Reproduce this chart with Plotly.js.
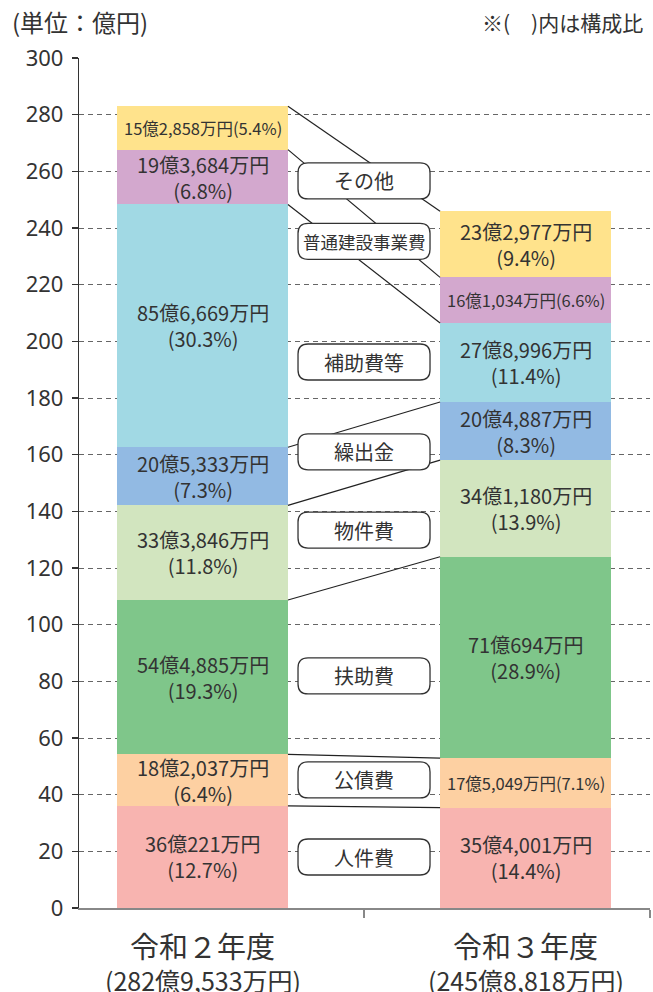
<!DOCTYPE html>
<html>
<head>
<meta charset="utf-8">
<script src="https://cdn.plot.ly/plotly-3.0.1.min.js"></script>
<style>html,body{margin:0;padding:0;background:#fff;}#chart{width:653px;height:992px;}</style>
</head>
<body>
<div id="chart"></div>
<script>
// ---- data (amounts in 万円) ----
const categories = ['令和２年度', '令和３年度'];
const items = ['人件費', '公債費', '扶助費', '物件費', '繰出金', '補助費等', '普通建設事業費', 'その他'];
const r2Values = [360221, 182037, 544885, 333846, 205333, 856669, 193684, 152858];
const r3Values = [354001, 175049, 710694, 341180, 204887, 278996, 161034, 232977];
const r2Pct = [12.7, 6.4, 19.3, 11.8, 7.3, 30.3, 6.8, 5.4];
const r3Pct = [14.4, 7.1, 28.9, 13.9, 8.3, 11.4, 6.6, 9.4];
const yTicks = [0, 20, 40, 60, 80, 100, 120, 140, 160, 180, 200, 220, 240, 260, 280, 300];

// ---- styles / layout config ----
const colors = ['#F8B4B0', '#FDD0A2', '#7FC68A', '#D2E5BF', '#92BAE3', '#A1D9E4', '#D3A8CE', '#FFE38C'];
const labelY = [18, 45.2, 81.9, 133.4, 161, 192.7, 235.3, 256.6]; // label box centres (axis units)
const labelSize = [20, 20, 20, 20, 20, 20, 17.5, 20];
const barW = 0.529;
const FONT = '"Noto Sans CJK JP", "Noto Sans", sans-serif';
const TXT = '#333333';

function fmt(v) {
  const oku = Math.floor(v / 10000);
  const man = v % 10000;
  return (oku > 0 ? oku + '億' : '') + man.toLocaleString('en-US') + '万円';
}

const series = [r2Values, r3Values];
const pcts = [r2Pct, r3Pct];

const traces = items.map((name, i) => ({
  type: 'bar',
  name: name,
  x: [0, 1],
  y: series.map(s => s[i] / 10000),
  width: barW,
  marker: {color: colors[i], line: {width: 0}},
  hoverinfo: 'skip',
  showlegend: false
}));

// connector lines between segment tops
const lx = [], ly = [];
const cum = series.map(s => { let c = 0; return s.map(v => (c += v / 10000)); });
for (let i = 0; i < items.length; i++) {
  lx.push(barW / 2, 1 - barW / 2, null);
  ly.push(cum[0][i], cum[1][i], null);
}
traces.push({
  type: 'scatter', mode: 'lines', x: lx, y: ly,
  line: {color: '#222', width: 1.2}, hoverinfo: 'skip', showlegend: false
});

const annotations = [];
const shapes = [];

// segment value labels
series.forEach((s, b) => {
  let base = 0;
  s.forEach((v, i) => {
    const h = v / 10000;
    const mid = base + h / 2;
    base += h;
    const single = h < 18;
    const txt = single ? fmt(v) + '(' + pcts[b][i].toFixed(1) + '%)'
                       : fmt(v) + '<br>(' + pcts[b][i].toFixed(1) + '%)';
    annotations.push({
      x: b, y: mid, xref: 'x', yref: 'y', text: txt, showarrow: false,
      xanchor: 'center', yanchor: 'middle', align: 'center',
      font: {family: FONT, size: single ? 16.5 : 20, color: TXT}
    });
  });
});

// label boxes (rounded)
const hw = 66, hh = 18, r = 10;
const boxPath = `M ${-hw + r},${-hh} L ${hw - r},${-hh} Q ${hw},${-hh} ${hw},${-hh + r} L ${hw},${hh - r} Q ${hw},${hh} ${hw - r},${hh} L ${-hw + r},${hh} Q ${-hw},${hh} ${-hw},${hh - r} L ${-hw},${-hh + r} Q ${-hw},${-hh} ${-hw + r},${-hh} Z`;
items.forEach((name, i) => {
  shapes.push({
    type: 'path', xref: 'x', yref: 'y', xsizemode: 'pixel', ysizemode: 'pixel',
    xanchor: 0.5, yanchor: labelY[i], path: boxPath,
    fillcolor: '#ffffff', line: {color: '#333', width: 1.3}, layer: 'above'
  });
  annotations.push({
    x: 0.5, y: labelY[i], xref: 'x', yref: 'y', text: name, showarrow: false,
    xanchor: 'center', yanchor: 'middle',
    font: {family: FONT, size: labelSize[i], color: TXT}
  });
});

// axis extension below zero
shapes.push({
  type: 'line', xref: 'paper', yref: 'y', ysizemode: 'pixel', yanchor: 0,
  x0: 0, x1: 0, y0: 0, y1: -10, line: {color: '#333', width: 1.2}
});

// category labels
categories.forEach((c, b) => {
  const tot = series[b].reduce((a, v) => a + v, 0);
  annotations.push({
    x: b, y: -0.0435, xref: 'x', yref: 'paper', text: c, showarrow: false,
    xanchor: 'center', yanchor: 'middle', font: {family: FONT, size: 29, color: TXT}
  });
  annotations.push({
    x: b, y: -0.0847, xref: 'x', yref: 'paper', text: '(' + fmt(tot) + ')', showarrow: false,
    xanchor: 'center', yanchor: 'middle', font: {family: FONT, size: 25, color: TXT}
  });
});

// header notes
annotations.push({
  x: -0.1208, y: 1.0424, xref: 'paper', yref: 'paper', text: '(単位：億円)', showarrow: false,
  xanchor: 'left', yanchor: 'middle', font: {family: FONT, size: 24, color: TXT}
});
annotations.push({
  x: 0.9912, y: 1.0424, xref: 'paper', yref: 'paper', text: '※(　)内は構成比', showarrow: false,
  xanchor: 'right', yanchor: 'middle', font: {family: FONT, size: 21, color: TXT}
});

const layout = {
  width: 653, height: 992,
  margin: {l: 79, r: 3, t: 58, b: 84},
  paper_bgcolor: '#fff', plot_bgcolor: '#fff',
  barmode: 'stack',
  showlegend: false,
  xaxis: {
    range: [-0.3824, 1.3854], showgrid: false, zeroline: false,
    showline: true, linecolor: '#888', linewidth: 1.5,
    tickvals: [0.5, 1.3854], ticktext: ['', ''], ticks: 'outside', ticklen: 8,
    tickcolor: '#888', tickwidth: 1.2, fixedrange: true
  },
  yaxis: {
    range: [0, 300], tickvals: yTicks, ticks: 'outside', ticklen: 6,
    tickcolor: '#333', tickwidth: 1.2,
    showline: true, linecolor: '#333', linewidth: 1.2,
    showgrid: true, gridcolor: '#666', gridwidth: 1, griddash: '5px,4px',
    zeroline: false, tickfont: {family: '"Noto Sans", sans-serif', size: 22, color: TXT},
    ticklabelstandoff: 4, fixedrange: true
  },
  annotations: annotations,
  shapes: shapes
};

Plotly.newPlot('chart', traces, layout, {displayModeBar: false, staticPlot: true});
</script>
</body>
</html>
